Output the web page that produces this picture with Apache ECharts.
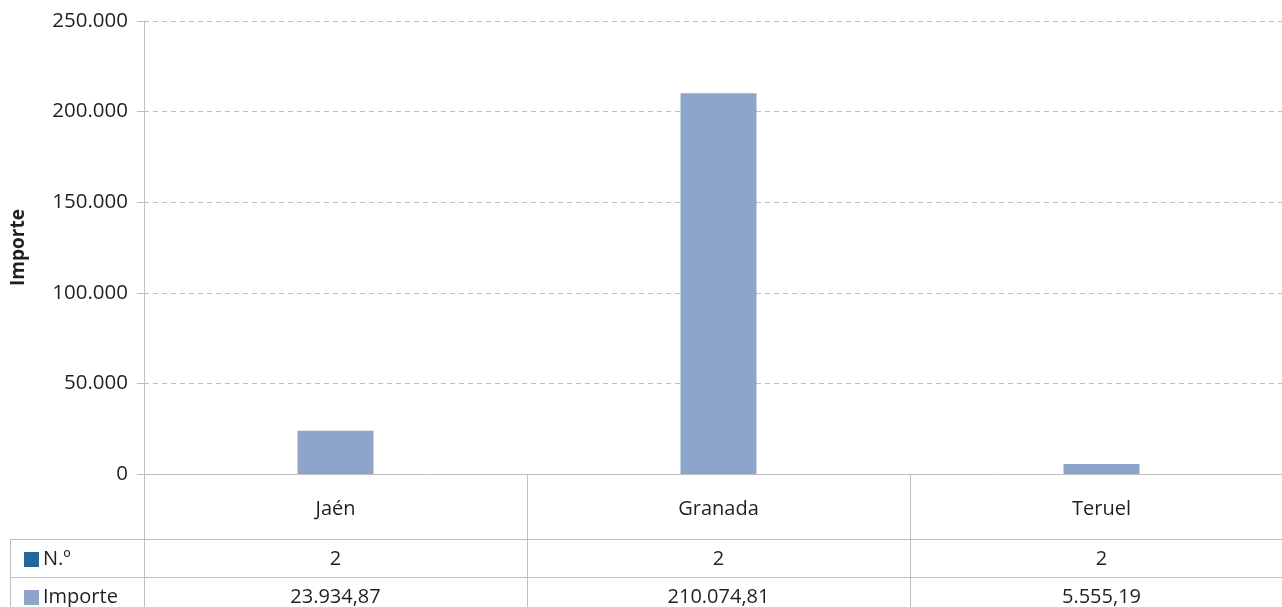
<!DOCTYPE html>
<html><head><meta charset="utf-8">
<script src="https://cdn.jsdelivr.net/npm/echarts@6/dist/echarts.min.js"></script>
<style>html,body{margin:0;padding:0;background:#fff}#c{width:1282px;height:607px}</style>
</head><body><div id="c"></div>
<script>
const categories = ['Jaén', 'Granada', 'Teruel'];
const seriesNames = ['N.º', 'Importe'];
const nValues = [2, 2, 2];
const importeValues = [23934.87, 210074.81, 5555.19];
const yMin = 0, yMax = 250000, yInterval = 50000;

const FONT = '"Open Sans", sans-serif';
const TXT = '#231f20';
const LINE = '#bfbfbf';
const COL_N = '#2566a0';
const COL_I = '#8ea5cb';

function fmt(v, dec) {
  const s = Math.abs(v).toFixed(dec);
  const parts = s.split('.');
  const intp = parts[0].replace(/\B(?=(\d{3})+(?!\d))/g, '.');
  return (v < 0 ? '-' : '') + intp + (dec > 0 ? ',' + parts[1] : '');
}

const chart = echarts.init(document.getElementById('c'), null, {renderer: 'canvas'});
chart.setOption({
  animation: false,
  grid: {left: 144, right: -11, top: 21, bottom: 133, containLabel: false, outerBoundsMode: 'none'},
  xAxis: {
    type: 'category', data: categories,
    axisLine: {show: true, lineStyle: {color: LINE, width: 1}},
    axisTick: {show: false},
    axisLabel: {margin: 25, fontFamily: FONT, fontSize: 20, color: TXT, lineHeight: 20}
  },
  yAxis: {
    type: 'value', min: yMin, max: yMax, interval: yInterval,
    name: seriesNames[1], nameLocation: 'middle', nameRotate: 90, nameGap: 116,
    nameTextStyle: {fontFamily: FONT, fontSize: 19, fontWeight: 'bold', color: TXT},
    axisLine: {show: true, lineStyle: {color: LINE, width: 1}},
    axisTick: {show: true, length: 7, lineStyle: {color: LINE}},
    splitLine: {show: true, lineStyle: {color: LINE, type: [5, 4], width: 1}},
    axisLabel: {margin: 16, fontFamily: FONT, fontSize: 20.5, color: TXT, formatter: v => fmt(v, 0)}
  },
  series: [
    {name: seriesNames[0], type: 'bar', data: nValues, barWidth: 76, barGap: '-100%', itemStyle: {color: COL_N}},
    {name: seriesNames[1], type: 'bar', data: importeValues, barWidth: 76, barGap: '-100%', itemStyle: {color: COL_I}}
  ]
});

// Data table below the chart, positioned from the category axis
const centers = categories.map(c => chart.convertToPixel({xAxisIndex: 0}, c));
const band = centers[1] - centers[0];
const yBase = chart.convertToPixel({yAxisIndex: 0}, 0);
const rowTop = yBase + 65;      // top of table
const rowH = 38;
const H = 607, W = 1282;
const tableLeft = 10;
const g = [];
const line = (x1, y1, x2, y2) => g.push({type: 'line', shape: {x1, y1, x2, y2}, style: {stroke: LINE, lineWidth: 1}, silent: true});
for (let i = 0; i <= categories.length; i++) {
  const bx = Math.round(centers[0] - band / 2 + i * band) + 0.5;
  line(bx, yBase, bx, H);
}
line(tableLeft + 0.5, rowTop, tableLeft + 0.5, H);
line(tableLeft, Math.round(rowTop) + 0.5, W, Math.round(rowTop) + 0.5);
line(tableLeft, Math.round(rowTop + rowH) + 0.5, W, Math.round(rowTop + rowH) + 0.5);

const rows = [
  {name: seriesNames[0], color: COL_N, vals: nValues.map(v => fmt(v, 0))},
  {name: seriesNames[1], color: COL_I, vals: importeValues.map(v => fmt(v, 2))}
];
rows.forEach((r, ri) => {
  const cy = rowTop + rowH * ri + rowH / 2 + 1.5;
  g.push({type: 'rect', shape: {x: 24, y: Math.round(cy - 7.5), width: 15, height: 15}, style: {fill: r.color}, silent: true});
  g.push({type: 'text', x: 43, y: cy, style: {text: r.name, fill: TXT, font: '20px ' + FONT, textAlign: 'left', textVerticalAlign: 'middle'}, silent: true});
  r.vals.forEach((t, ci) => {
    g.push({type: 'text', x: centers[ci], y: cy, style: {text: t, fill: TXT, font: '20px ' + FONT, textAlign: 'center', textVerticalAlign: 'middle'}, silent: true});
  });
});
chart.setOption({graphic: {elements: g}});
</script>
</body></html>
